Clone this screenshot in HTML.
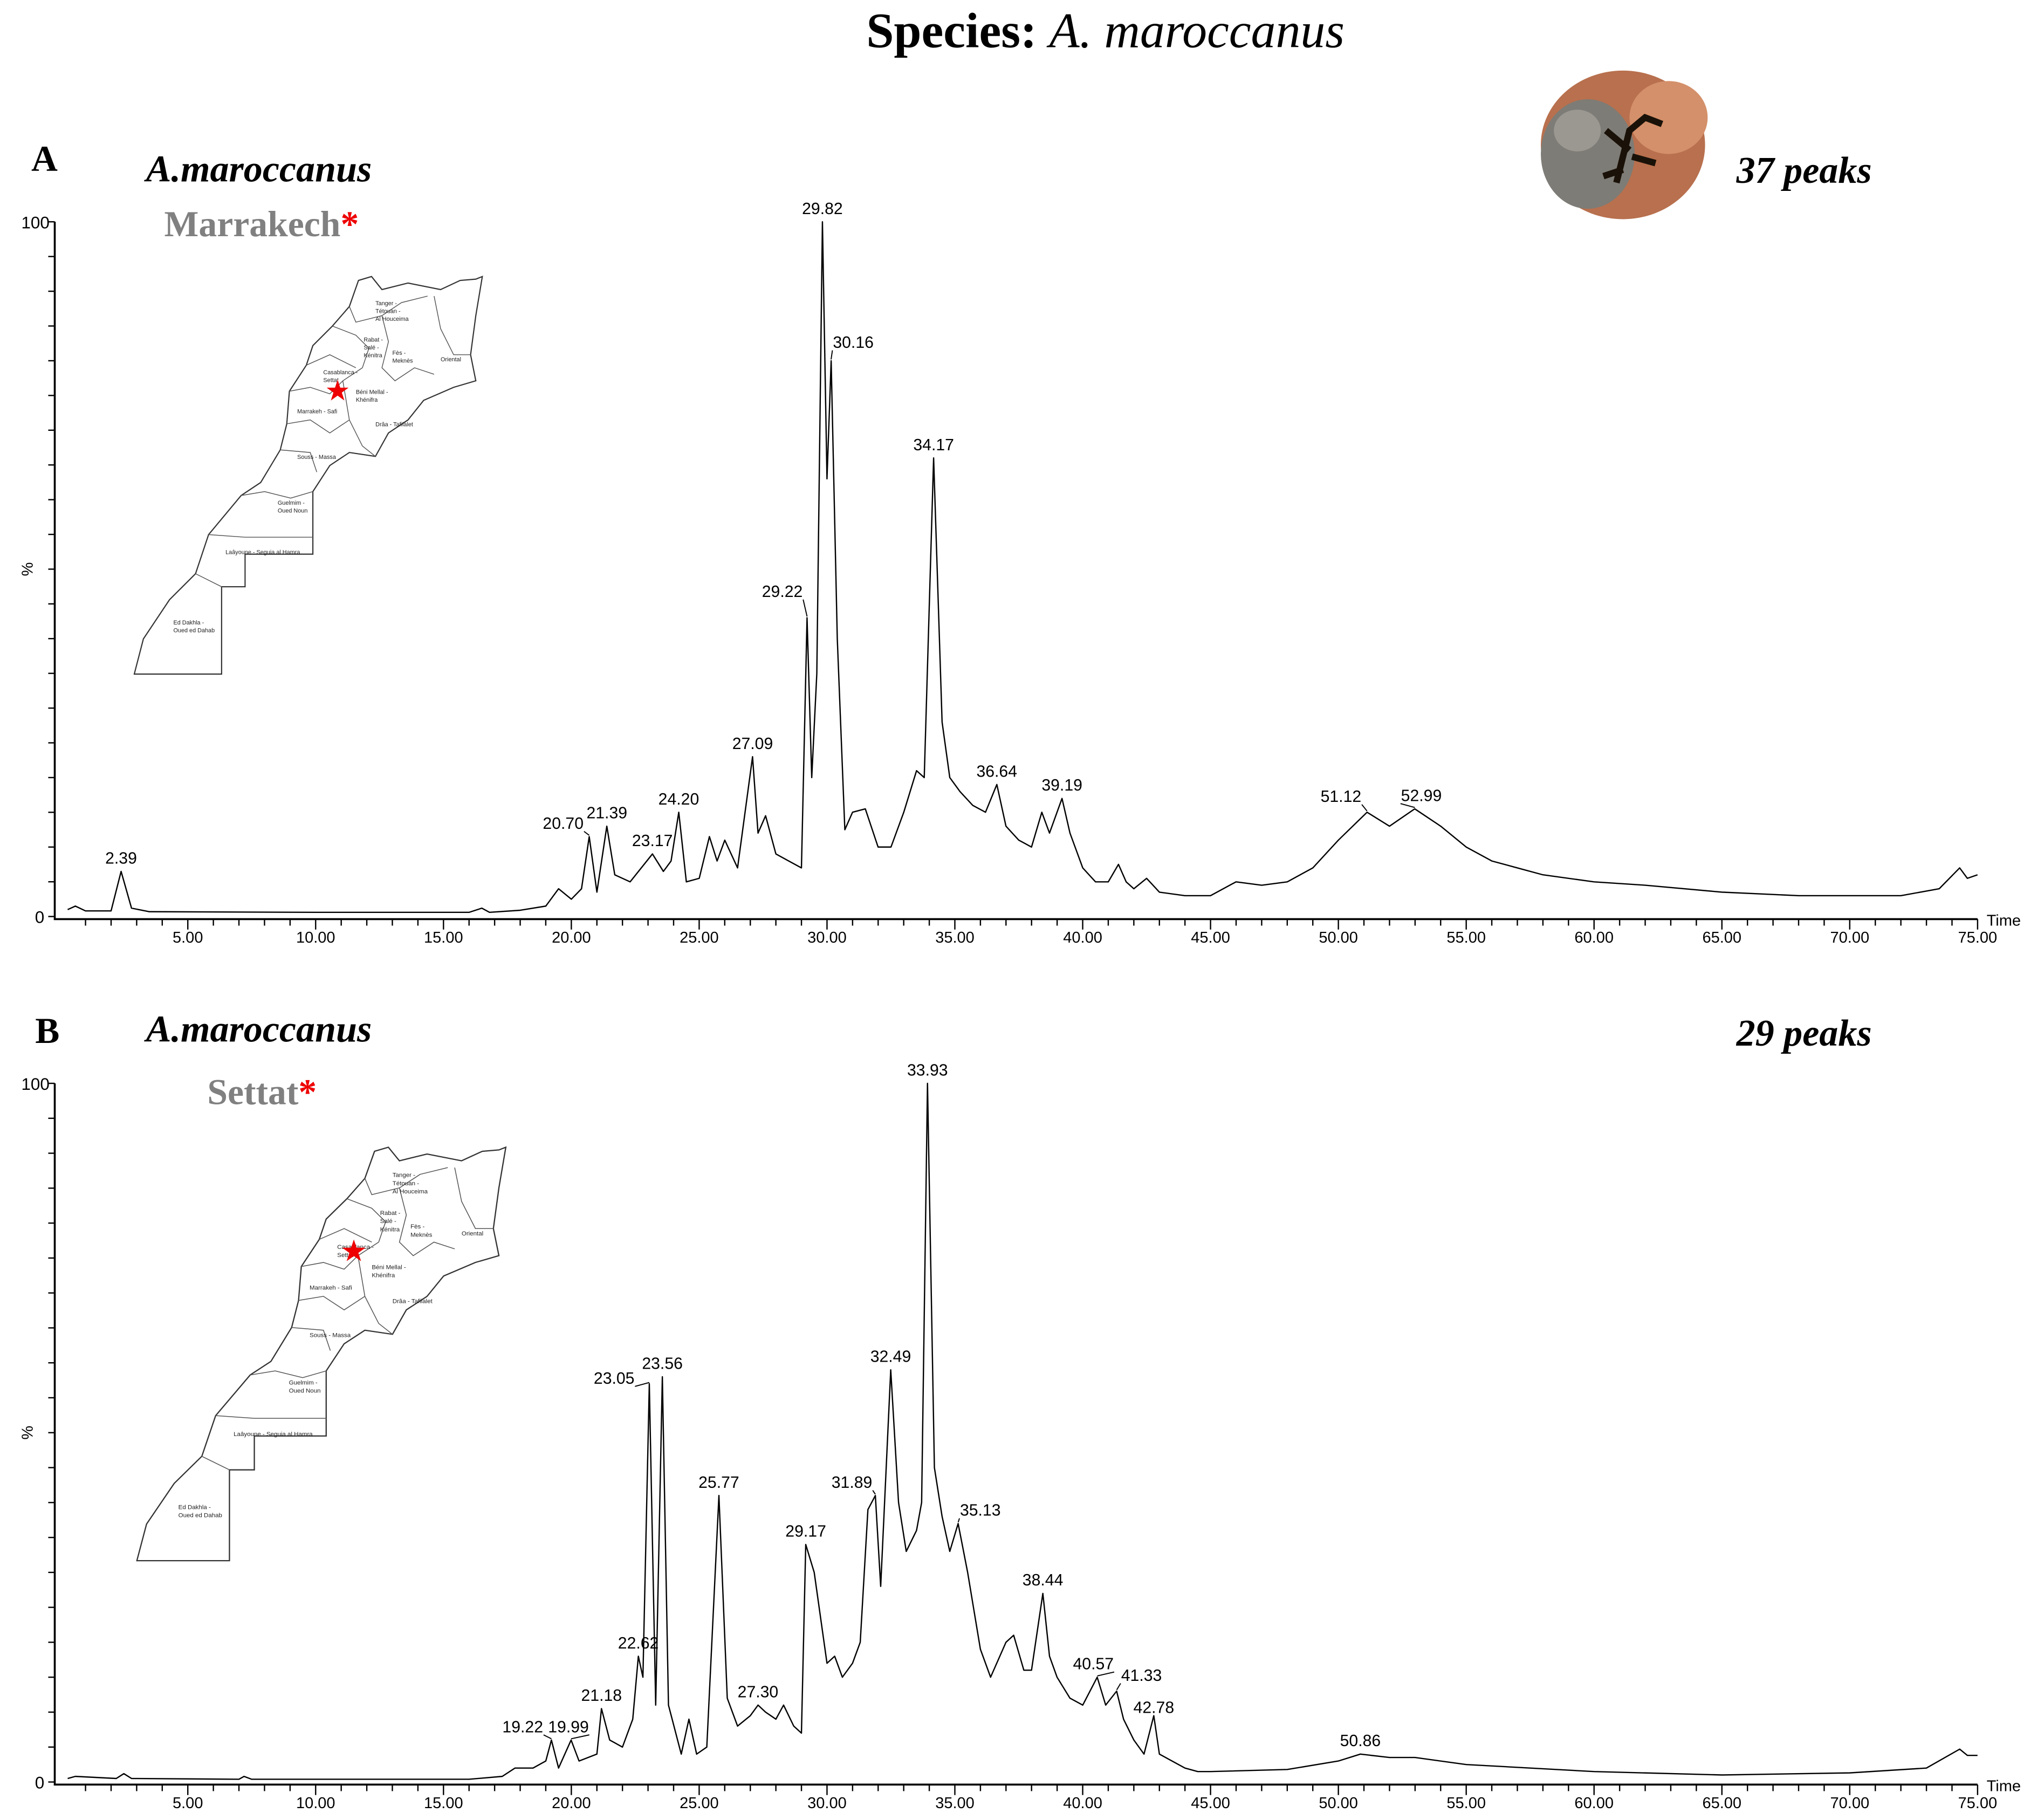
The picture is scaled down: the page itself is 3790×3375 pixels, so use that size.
<!DOCTYPE html>
<html><head><meta charset="utf-8"><style>
html,body{margin:0;padding:0;background:#fff}
svg{display:block}
</style></head><body>
<svg id="fig" width="3790" height="3375" viewBox="0 0 1568 1396" xmlns="http://www.w3.org/2000/svg" font-family="Liberation Sans, sans-serif">
<text x="848" y="36" text-anchor="middle" font-family="Liberation Serif, serif" font-size="38" font-weight="bold">Species: <tspan font-weight="normal" font-style="italic">A. maroccanus</tspan></text>
<text x="24" y="131" font-family="Liberation Serif, serif" font-size="28" font-weight="bold">A</text>
<text x="112" y="139" font-family="Liberation Serif, serif" font-size="29" font-weight="bold" font-style="italic">A.maroccanus</text>
<text x="126" y="181" font-family="Liberation Serif, serif" font-size="28" font-weight="bold" fill="#808080">Marrakech<tspan fill="#e00">*</tspan></text>
<text x="1332" y="140" font-family="Liberation Serif, serif" font-size="29" font-weight="bold" font-style="italic">37 peaks</text>
<text x="27" y="800" font-family="Liberation Serif, serif" font-size="28" font-weight="bold">B</text>
<text x="112" y="799" font-family="Liberation Serif, serif" font-size="29" font-weight="bold" font-style="italic">A.maroccanus</text>
<text x="159" y="847" font-family="Liberation Serif, serif" font-size="28" font-weight="bold" fill="#808080">Settat<tspan fill="#e00">*</tspan></text>
<text x="1332" y="802" font-family="Liberation Serif, serif" font-size="29" font-weight="bold" font-style="italic">29 peaks</text>
<g>
<ellipse cx="1245" cy="111" rx="63" ry="57" fill="#b8704e"/>
<ellipse cx="1280" cy="90" rx="30" ry="28" fill="#d4906a"/>
<ellipse cx="1218" cy="118" rx="36" ry="42" fill="#7e7c76"/>
<ellipse cx="1210" cy="100" rx="18" ry="16" fill="#9a9890"/>
<path d="M1240 140 L1250 100 L1262 90 L1275 95 M1250 115 L1232 100 M1252 120 L1270 125 M1245 130 L1230 135" stroke="#1a1208" stroke-width="5" fill="none"/>
</g>
<g id="charts"></g>
</svg>
<script>
// Chart A data (retention time in minutes, relative intensity %)
const timesA=[0.3,0.6,1,2.0,2.39,2.8,3.5,10,16,16.5,16.8,18,19,19.5,20,20.4,20.7,21,21.39,21.7,22.3,23.17,23.6,23.9,24.2,24.5,25,25.4,25.7,26,26.5,27.09,27.3,27.6,28,28.5,29,29.22,29.4,29.6,29.82,30.0,30.16,30.4,30.7,31,31.5,32,32.5,33,33.5,33.8,34.17,34.5,34.8,35.2,35.7,36.2,36.64,37,37.5,38,38.4,38.7,39.19,39.5,40,40.5,41,41.4,41.7,42,42.5,43,44,45,46,47,48,49,50,51.12,52,52.99,54,55,56,57,58,60,62,65,68,70,72,73.5,74.3,74.6,75];
const valuesA=[1,1.5,0.8,0.8,6.5,1.2,0.7,0.6,0.6,1.2,0.6,0.9,1.5,4,2.5,4,11.5,3.5,13,6,5,9,6.5,8,15,5,5.5,11.5,8,11,7,23,12,14.5,9,8,7,43,20,35,100,63,80,40,12.5,15,15.5,10,10,15,21,20,66,28,20,18,16,15,19,13,11,10,15,12,17,12,7,5,5,7.5,5,4,5.5,3.5,3,3,5,4.5,5,7,11,15,13,15.5,13,10,8,7,6,5,4.5,3.5,3,3,3,4,7,5.5,6];
const labelsA=["2.39","20.70","21.39","23.17","24.20","27.09","29.22","29.82","30.16","34.17","36.64","39.19","51.12","52.99"];
const labelValsA=[6.5,11.5,13,9,15,23,43,100,80,66,19,17,15,15.5];
// Chart B data
const timesB=[0.3,0.6,2.2,2.5,2.8,7,7.2,7.5,16,17.3,17.8,18.5,19,19.22,19.5,19.99,20.3,21,21.18,21.5,22,22.4,22.62,22.8,23.05,23.3,23.56,23.8,24.3,24.6,24.9,25.3,25.77,26.1,26.5,27,27.3,27.6,28,28.3,28.7,29,29.17,29.5,30,30.3,30.6,31,31.3,31.6,31.89,32.1,32.49,32.8,33.1,33.5,33.7,33.93,34.2,34.5,34.8,35.13,35.5,36,36.4,37,37.3,37.7,38,38.44,38.7,39,39.5,40,40.57,40.9,41.33,41.6,42,42.4,42.78,43,44,44.5,45,48,50,50.86,52,53,55,60,65,70,73,74.3,74.6,75];
const valuesB=[0.5,0.8,0.5,1.2,0.5,0.4,0.8,0.4,0.4,0.8,2,2,3,6,2,6,3,4,10.5,6,5,9,18,15,57,11,58,11,4,9,4,5,41,12,8,9.5,11,10,9,11,8,7,34,30,17,18,15,17,20,39,41,28,59,40,33,36,40,100,45,38,33,37,30,19,15,20,21,16,16,27,18,15,12,11,15,11,13,9,6,4,9.5,4,2,1.5,1.5,1.8,3,4,3.5,3.5,2.5,1.5,1,1.3,2,4.7,3.8,3.8];
const labelsB=["19.22","19.99","21.18","22.62","23.05","23.56","25.77","27.30","29.17","31.89","32.49","33.93","35.13","38.44","40.57","41.33","42.78","50.86"];
const labelValsB=[6,6,10.5,18,57,58,41,11,34,41,59,100,37,27,15,13,9.5,4];
const tickLabels=["5.00","10.00","15.00","20.00","25.00","30.00","35.00","40.00","45.00","50.00","55.00","60.00","65.00","70.00","75.00"];
const tickVals=[5,10,15,20,25,30,35,40,45,50,55,60,65,70,75];
// label layout offsets (pixels, not data)
const offA=[[0,0],[-20,0],[0,0],[0,0],[0,0],[0,0],[-19,-10],[0,0],[17,-4],[0,0],[0,0],[0,0],[-20,-2],[5,0]];
const offB=[[-22,0],[-2,0],[0,0],[0,0],[-27,6],[0,0],[0,0],[0,0],[0,0],[-18,0],[0,0],[0,0],[17,0],[0,0],[-3,0],[19,-2],[0,4],[0,0]];

const NS="http://www.w3.org/2000/svg";
const root=document.getElementById('charts');
function mk(tag,attrs,parent){const e=document.createElementNS(NS,tag);for(const k in attrs)e.setAttribute(k,attrs[k]);parent.appendChild(e);return e;}
function xScale(t){return 46+t*19.614;}

function drawChart(id,top,bottom,times,vals,labels,labelVals,offs){
  const g=mk('g',{},root);
  
  
  const yS=v=>bottom-(v/100)*(bottom-top);
  const ax=mk('path',{d:`M42 ${top} V${bottom+2} H1517`,stroke:'#000','stroke-width':1.5,fill:'none'},g);
  
  
  for(let p=0;p<=100;p+=5){mk('line',{x1:37,x2:42,y1:yS(p),y2:yS(p),stroke:'#000','stroke-width':1},g);}
  const y0=mk('text',{x:34,y:bottom+5,'text-anchor':'end','font-size':13},g);y0.textContent='0';
  
  
  const y100=mk('text',{x:38,y:top+5,'text-anchor':'end','font-size':13},g);y100.textContent='100';
  
  
  const yt=mk('text',{x:25,y:(top+bottom)/2,'text-anchor':'middle','font-size':12,transform:`rotate(-90 25 ${(top+bottom)/2})`},g);yt.textContent='%';
  
  
  for(let t=1;t<=75;t++){const big=t%5===0;mk('line',{x1:xScale(t),x2:xScale(t),y1:bottom+2,y2:bottom+(big?10:7),stroke:'#000','stroke-width':1},g);}
  tickVals.forEach((v,i)=>{const tx=mk('text',{x:xScale(v),y:bottom+20,'text-anchor':'middle','font-size':12},g);tx.textContent=tickLabels[i];
    
    });
  const tl=mk('text',{x:1524,y:bottom+7,'font-size':12},g);tl.textContent='Time';
  
  
  let d='';times.forEach((t,i)=>{d+=(i?'L':'M')+xScale(t).toFixed(1)+' '+yS(vals[i]).toFixed(1)+' ';});
  const tr=mk('path',{d:d,stroke:'#000','stroke-width':1,fill:'none','stroke-linejoin':'round'},g);
  
  
  labels.forEach((l,i)=>{const t=parseFloat(l);const x=xScale(t),y=yS(labelVals[i]);
    const dx=offs[i][0],dy=offs[i][1];
    const tx=mk('text',{x:x+dx,y:y-6+dy,'text-anchor':'middle','font-size':12.5},g);tx.textContent=l;
    
    
    if(dx!==0||dy<0){
      const ld=mk('line',{x1:x+dx+(dx<0?16:-16),y1:y-4+dy,x2:x,y2:y-1,stroke:'#000','stroke-width':0.8},g);
      
      
    }});
}
drawChart('panel-a',170,703,timesA,valuesA,labelsA,labelValsA,offA);
drawChart('panel-b',831,1367,timesB,valuesB,labelsB,labelValsB,offB);

// Morocco maps (local coords ~267 x 308)
const mapOutline="M0 305 L7 278 L27 248 L47 228 L57 198 L82 168 L97 158 L112 133 L117 113 L119 88 L132 68 L137 53 L152 38 L165 23 L172 3 L182 0 L190 10 L210 5 L235 10 L250 3 L262 2 L267 0 L262 30 L258 60 L262 80 L245 85 L222 95 L210 110 L195 120 L185 138 L165 135 L150 145 L137 165 L137 213 L85 213 L85 238 L67 238 L67 305 Z";
const mapInner="M165 23 L170 35 L190 30 L205 20 M152 38 L170 45 L180 55 L175 70 M190 30 L195 50 L190 70 L200 80 L215 70 L230 75 M205 20 L225 15 M230 15 L235 40 L245 60 L258 60 M132 68 L150 60 L170 70 M119 88 L135 85 L150 90 L160 80 L175 70 M160 80 L165 110 L150 120 L135 110 L117 113 M165 110 L175 130 L185 138 M112 133 L135 135 L140 150 M82 168 L100 165 L120 170 L137 165 M57 198 L85 200 L110 200 L137 200 M47 228 L67 238";
const mapNames=[["Tanger -",185,22],["Tétouan -",185,28],["Al Houceima",185,34],["Rabat -",176,50],["Salé -",176,56],["Kénitra",176,62],["Fès -",198,60],["Meknès",198,66],["Oriental",235,65],["Casablanca -",145,75],["Settat",145,81],["Béni Mellal -",170,90],["Khénifra",170,96],["Marrakeh - Safi",125,105],["Drâa - Tafilalet",185,115],["Souss - Massa",125,140],["Guelmim -",110,175],["Oued Noun",110,181],["Laâyoune - Seguia al Hamra",70,213],["Ed Dakhla -",30,267],["Oued ed Dahab",30,273]];
function drawMap(id,tx,ty,sx,sy,starX,starY){
  const g=mk('g',{transform:`translate(${tx} ${ty}) scale(${sx} ${sy})`},document.getElementById('fig'));
  
  
  mk('path',{d:mapOutline,fill:'none',stroke:'#333','stroke-width':0.9},g);
  mk('path',{d:mapInner,fill:'none',stroke:'#555','stroke-width':0.6},g);
  mapNames.forEach(n=>{const t=mk('text',{x:n[1],y:n[2],'font-size':4.5,fill:'#222'},g);t.textContent=n[0];
    
    });
  const st=mk('text',{x:starX,y:starY+7,'text-anchor':'middle','font-size':22,fill:'#e00'},g);st.textContent='★';
  
  
}
drawMap('map-marrakech',103,212,1.0,1.0,156,88);
drawMap('map-settat',105,880,1.06,1.04,157,77);
</script>
</body></html>
